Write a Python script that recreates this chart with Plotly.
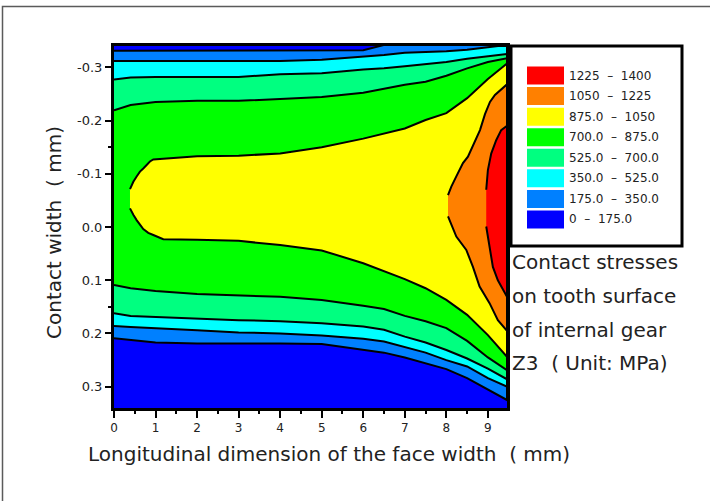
import plotly.graph_objects as go

# ---------------- data ----------------
# Longitudinal positions (mm) at which the contour boundaries were read
x_cols = [0, 0.4, 1, 2, 3, 4, 5, 6, 6.5, 7, 7.5, 8, 8.5, 9, 9.46]

# Contact-width position (mm) of each iso-stress line (upper / lower branch)
top_175 = [-0.331, -0.331, -0.331, -0.331, -0.331, -0.331, -0.331, -0.332, -0.342, -0.36, -0.36, -0.36, -0.36, -0.36, -0.36]
top_350 = [-0.312, -0.312, -0.312, -0.312, -0.312, -0.312, -0.314, -0.320, -0.323, -0.3275, -0.329, -0.330, -0.333, -0.3375, -0.342]
top_525 = [-0.277, -0.281, -0.282, -0.282, -0.282, -0.287, -0.289, -0.296, -0.298, -0.302, -0.306, -0.310, -0.316, -0.320, -0.325]
top_700 = [-0.219, -0.229, -0.235, -0.237, -0.237, -0.240, -0.244, -0.252, -0.260, -0.267, -0.273, -0.284, -0.298, -0.310, -0.317]
bot_700 = [0.109, 0.115, 0.120, 0.126, 0.129, 0.131, 0.137, 0.148, 0.154, 0.167, 0.177, 0.190, 0.214, 0.245, 0.269]
bot_525 = [0.162, 0.167, 0.170, 0.172, 0.175, 0.177, 0.181, 0.187, 0.193, 0.206, 0.217, 0.231, 0.247, 0.266, 0.286]
bot_350 = [0.186, 0.188, 0.191, 0.194, 0.198, 0.200, 0.204, 0.210, 0.215, 0.226, 0.236, 0.250, 0.262, 0.284, 0.300]
bot_175 = [0.209, 0.212, 0.217, 0.219, 0.219, 0.219, 0.220, 0.231, 0.236, 0.245, 0.256, 0.267, 0.284, 0.305, 0.325]

# 875 MPa iso-line (closed on the left)
up_875_x = [0.385, 0.425, 0.465, 0.545, 0.625, 0.705, 0.785, 0.865, 0.946, 2, 3, 4, 5, 6, 7, 7.5, 8, 8.5, 9, 9.46]
up_875_y = [-0.071, -0.078, -0.085, -0.095, -0.104, -0.110, -0.116, -0.123, -0.127, -0.133, -0.134, -0.138, -0.150, -0.166, -0.185, -0.201, -0.214, -0.242, -0.278, -0.307]
lo_875_x = [0.385, 0.425, 0.465, 0.545, 0.625, 0.705, 0.825, 0.946, 1.186, 2, 3, 4, 5, 6, 7, 7.5, 8, 8.5, 9, 9.46]
lo_875_y = [-0.035, -0.030, -0.023, -0.013, -0.004, 0.004, 0.011, 0.015, 0.023, 0.024, 0.026, 0.034, 0.044, 0.068, 0.098, 0.115, 0.137, 0.165, 0.203, 0.244]

# 1050 MPa iso-line
up_1050_x = [8.04, 8.12, 8.24, 8.40, 8.52, 8.65, 8.81, 8.93, 9.05, 9.17, 9.29, 9.46]
up_1050_y = [-0.060, -0.076, -0.095, -0.120, -0.132, -0.155, -0.182, -0.212, -0.235, -0.248, -0.256, -0.268]
lo_1050_x = [8.04, 8.08, 8.24, 8.48, 8.64, 8.80, 9.04, 9.24, 9.46]
lo_1050_y = [-0.020, -0.013, 0.018, 0.043, 0.075, 0.112, 0.143, 0.175, 0.195]

# 1225 MPa iso-line
up_1225_x = [8.96, 9.00, 9.08, 9.20, 9.32, 9.46]
up_1225_y = [-0.070, -0.107, -0.138, -0.163, -0.182, -0.190]
lo_1225_x = [8.96, 9.04, 9.12, 9.24, 9.36, 9.46]
lo_1225_y = [-0.001, 0.037, 0.075, 0.100, 0.118, 0.131]

# Legend (top to bottom)
legend_labels = ["1225  –  1400", "1050  –  1225", "875.0  –  1050", "700.0  –  875.0",
                 "525.0  –  700.0", "350.0  –  525.0", "175.0  –  350.0", "0  –  175.0"]
legend_colors = ["#FF0000", "#FF8000", "#FFFF00", "#00FF00",
                 "#00FF80", "#00FFFF", "#0080FF", "#0000FF"]

x_ticks = [0, 1, 2, 3, 4, 5, 6, 7, 8, 9]
y_ticks = [-0.3, -0.2, -0.1, 0.0, 0.1, 0.2, 0.3]
y_ticktext = ["-0.3", "-0.2", "-0.1", "0.0", "0.1", "0.2", "0.3"]

note_lines = ["Contact stresses", "on tooth surface", "of internal gear", "Z3  ( Unit: MPa)"]
x_title = "Longitudinal dimension of the face width  ( mm)"
y_title = "Contact width  ( mm)"

# ---------------- figure ----------------
W, H = 710, 501
L, R, T, B = 114, 507, 46, 408   # plot area in pixels
FONT = "DejaVu Sans"
NB = "\u00a0"


def px(x):
    return (x - L) / (R - L)


def py(y):
    return (B - y) / (B - T)


fig = go.Figure()


def region(xt, yt, xb, yb, color):
    fig.add_trace(go.Scatter(
        x=list(xt) + list(xb)[::-1],
        y=list(yt) + list(yb)[::-1],
        mode="lines", fill="toself", fillcolor=color,
        line=dict(color="black", width=2),
        hoverinfo="skip", showlegend=False))


region(x_cols, top_175, x_cols, bot_175, "#0080FF")
region(x_cols, top_350, x_cols, bot_350, "#00FFFF")
region(x_cols, top_525, x_cols, bot_525, "#00FF80")
region(x_cols, top_700, x_cols, bot_700, "#00FF00")
region(up_875_x, up_875_y, lo_875_x, lo_875_y, "#FFFF00")
region(up_1050_x, up_1050_y, lo_1050_x, lo_1050_y, "#FF8000")
region(up_1225_x, up_1225_y, lo_1225_x, lo_1225_y, "#FF0000")

shapes = []
annotations = []

# outer figure frame (only top/left edge visible)
shapes.append(dict(type="rect", xref="paper", yref="paper",
                   x0=px(2.5), x1=px(730), y0=py(6.5), y1=py(530),
                   line=dict(color="#5a5a5a", width=1.5), layer="below"))

# legend box
shapes.append(dict(type="rect", xref="paper", yref="paper",
                   x0=px(511), x1=px(682), y0=py(46), y1=py(246),
                   line=dict(color="black", width=3), fillcolor="white", layer="above"))
for i, (lab, col) in enumerate(zip(legend_labels, legend_colors)):
    yc = 75.5 + 20.57 * i
    shapes.append(dict(type="rect", xref="paper", yref="paper",
                       x0=px(527), x1=px(564), y0=py(yc - 9), y1=py(yc + 9),
                       line=dict(width=0), fillcolor=col, layer="above"))
    annotations.append(dict(text=lab.replace(" ", NB), xref="paper", yref="paper",
                            x=px(567), y=py(yc), xanchor="left", yanchor="middle",
                            showarrow=False, font=dict(family=FONT, size=12, color="#222")))

for i, line in enumerate(note_lines):
    annotations.append(dict(text=line.replace(" ", NB), xref="paper", yref="paper",
                            x=px(510), y=py(262 + 33.8 * i), xanchor="left", yanchor="middle",
                            showarrow=False, font=dict(family=FONT, size=20, color="#222")))

annotations.append(dict(text=x_title.replace(" ", NB), xref="paper", yref="paper",
                        x=px(329), y=py(454), xanchor="center", yanchor="middle",
                        showarrow=False, font=dict(family=FONT, size=20, color="#222")))
annotations.append(dict(text=y_title.replace(" ", NB), xref="paper", yref="paper",
                        x=px(54), y=py(233), xanchor="center", yanchor="middle", textangle=-90,
                        showarrow=False, font=dict(family=FONT, size=20, color="#222")))

fig.update_layout(
    width=W, height=H, autosize=False,
    margin=dict(l=L, r=W - R, t=T, b=H - B, pad=0),
    paper_bgcolor="white", plot_bgcolor="#0000FF",
    showlegend=False,
    shapes=shapes, annotations=annotations,
    xaxis=dict(range=[0, 9.46], tickmode="array", tickvals=x_ticks,
               showline=True, mirror=True, linecolor="black", linewidth=3,
               ticks="outside", ticklen=7, tickwidth=2, tickcolor="black",
               minor=dict(tickmode="linear", tick0=0.5, dtick=1, ticks="outside",
                          ticklen=3, tickwidth=2, tickcolor="black"),
               showgrid=False, zeroline=False,
               tickfont=dict(family=FONT, size=12, color="#222")),
    yaxis=dict(range=[0.34, -0.34], tickmode="array", tickvals=y_ticks, ticktext=y_ticktext,
               showline=True, mirror=True, linecolor="black", linewidth=3,
               ticks="outside", ticklen=6, tickwidth=2, tickcolor="black",
               minor=dict(tickmode="array", tickvals=[-0.15, 0.15], ticks="outside",
                          ticklen=3, tickwidth=2, tickcolor="black"),
               showgrid=False, zeroline=False,
               tickfont=dict(family=FONT, size=13, color="#222")),
)

fig.write_html("out.html", config={"displayModeBar": False},
               post_script="document.body.style.margin='0';")
